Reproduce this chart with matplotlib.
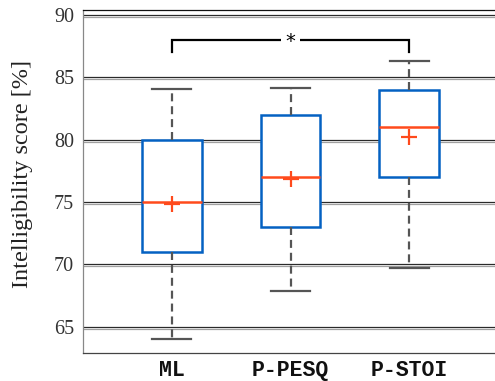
import matplotlib
matplotlib.use("Agg")
import matplotlib.pyplot as plt
import matplotlib.transforms as mtrans

plt.rcParams["font.family"] = ["Liberation Serif", "DejaVu Serif"]

# box plot summary values
methods = ["ML", "P-PESQ", "P-STOI"]
medians = [75.0, 77.0, 81.0]
means = [74.85, 76.85, 80.2]
q1 = [71.0, 73.0, 77.0]
q3 = [80.0, 82.0, 84.0]
whislo = [64.0, 67.9, 69.75]
whishi = [84.05, 84.15, 86.3]
yticks = [65, 70, 75, 80, 85, 90]

# significance bracket between ML and P-STOI
sig_pair = (1, 3)
sig_level = 88.0
sig_drop = 1.0

blue = "#0461c2"
orange = "#ff4a1c"
wgray = "#555555"

fig = plt.figure(figsize=(4.95, 3.81), dpi=100)
ax = fig.add_axes([83 / 495, 28 / 381, 415 / 495, 343 / 381])

stats = []
for i, name in enumerate(methods):
    stats.append({"label": name, "med": medians[i], "mean": means[i],
                  "q1": q1[i], "q3": q3[i],
                  "whislo": whislo[i], "whishi": whishi[i], "fliers": []})

ax.bxp(stats, positions=[1, 2, 3], widths=0.5, showmeans=True,
       showfliers=False, patch_artist=True,
       boxprops=dict(facecolor="white", edgecolor=blue, linewidth=1.8),
       medianprops=dict(color=orange, linewidth=1.8),
       meanprops=dict(marker="+", markersize=11, markeredgewidth=1.6,
                      markeredgecolor=orange, color=orange),
       whiskerprops=dict(color=wgray, linewidth=1.6, linestyle=(0, (3.6, 2.2))),
       capprops=dict(color=wgray, linewidth=1.6),
       capwidths=0.33, zorder=3)

# double grid lines: dark line with light grey shadow just below
ytr = ax.get_yaxis_transform()
shadow = ytr + mtrans.ScaledTranslation(0, -1.4 / 72, fig.dpi_scale_trans)
ax.hlines(yticks, 0, 1, transform=ytr, colors="#2a2a2a", linewidth=0.9, zorder=1)
ax.hlines(yticks, 0, 1, transform=shadow, colors="#a0a0a0", linewidth=0.9, zorder=1)

ax.set_xlim(0.25, 3.75)
ax.set_ylim(62.9, 90.4)
ax.set_yticks(yticks)
ax.set_yticklabels([str(v) for v in yticks], fontsize=14.5, color="#333333")
ax.set_xticks([1, 2, 3])
ax.set_xticklabels(methods, family="Liberation Mono", fontweight="bold",
                   fontsize=15.5, color="#111111")
ax.tick_params(axis="y", length=0, pad=6.5)
ax.tick_params(axis="x", length=0, pad=5)
ax.set_ylabel("Intelligibility score [%]", fontsize=17.5, color="#222222")
ax.yaxis.set_label_coords(-0.12, 0.522)

ax.spines["left"].set_color("#888888")
ax.spines["bottom"].set_color("#444444")
ax.spines["top"].set_color("#111111")
ax.spines["right"].set_visible(False)
for s in ax.spines.values():
    s.set_linewidth(0.9)

# significance bracket
xa, xb = sig_pair
ax.plot([xa, xa, xb, xb], [sig_level - sig_drop, sig_level, sig_level, sig_level - sig_drop],
        color="black", linewidth=1.6, zorder=4, solid_joinstyle="miter")
ax.text((xa + xb) / 2, sig_level - 0.1, "*", ha="center", va="center",
        fontsize=14, family="DejaVu Sans", zorder=5,
        bbox=dict(facecolor="white", edgecolor="none", pad=3))

fig.savefig("out.png", dpi=100)
